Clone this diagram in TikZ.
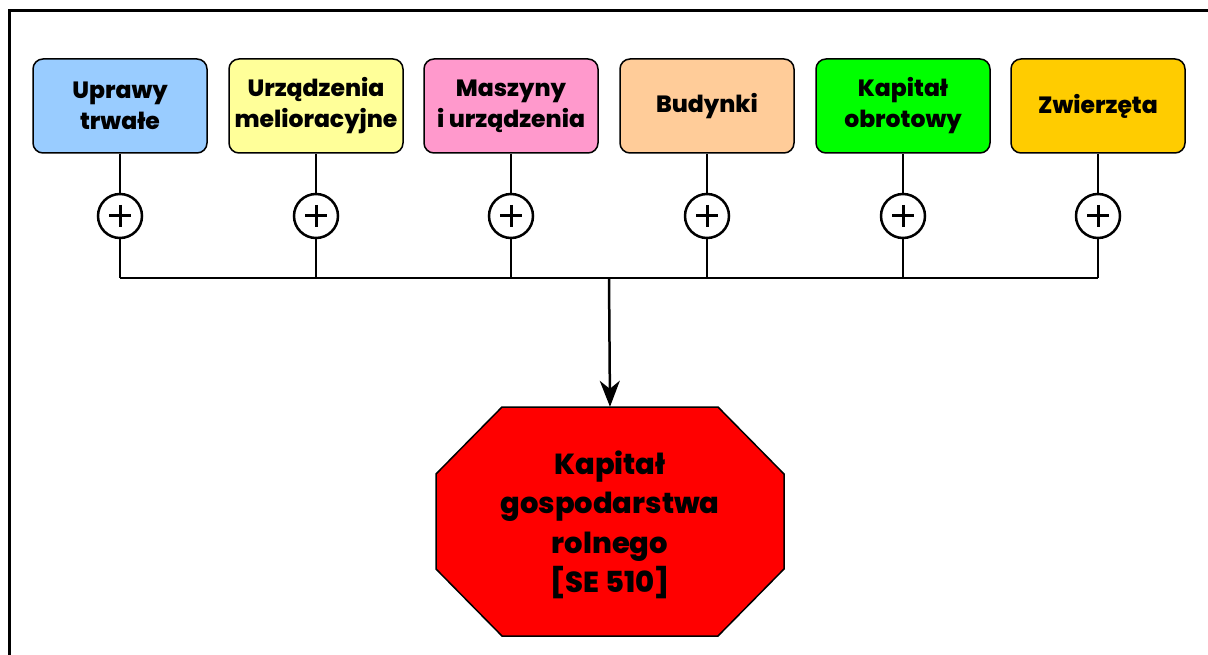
\documentclass[tikz,border=0pt]{standalone}
\usepackage{fontspec}
\setmainfont{Poppins}[BoldFont={Poppins ExtraBold}]
\usetikzlibrary{arrows.meta,calc}
\definecolor{cUprawy}{HTML}{99CCFF}
\definecolor{cUrzadz}{HTML}{FFFF99}
\definecolor{cMaszyny}{HTML}{FF99CC}
\definecolor{cBudynki}{HTML}{FFCC99}
\definecolor{cObrot}{HTML}{00FF00}
\definecolor{cZwierz}{HTML}{FFCC00}
\tikzset{
  item/.style={draw, line width=1.5pt, rounded corners=10pt, minimum width=174pt,
    minimum height=94pt, inner sep=0pt, align=center,
    font=\fontsize{23.5}{31}\selectfont\bfseries},
  sumnode/.style={draw, circle, line width=2.5pt, minimum size=44pt, inner sep=0pt,
    path picture={\draw[line width=3pt]
      ($(path picture bounding box.center)+(-11,0)$) -- ($(path picture bounding box.center)+(11,0)$)
      ($(path picture bounding box.center)+(0,-11)$) -- ($(path picture bounding box.center)+(0,11)$);}},
  link/.style={line width=2.5pt},
}
\begin{document}
\begin{tikzpicture}[x=1pt,y=-1pt]
  \useasboundingbox (0,0) rectangle (1208,655);
  % ramka
  \draw[line width=3pt] (1208,11) -- (9,11) -- (9,655);
  % skladniki kapitalu
  \foreach \x/\name/\col/\txt [count=\i] in {
      120/uprawy/cUprawy/{Uprawy\\trwałe},
      316/urzadz/cUrzadz/{Urządzenia\\melioracyjne},
      511/maszyny/cMaszyny/{Maszyny\\i urządzenia},
      707/budynki/cBudynki/{Budynki},
      903/obrot/cObrot/{Kapitał\\obrotowy},
      1098/zwierz/cZwierz/{Zwierzęta}}{
    \node[item, fill=\col] (\name) at (\x,106) {\txt};
    \node[sumnode] (p\i) at (\x,216) {};
    \coordinate (b\i) at (\x,278);
    \draw[link] (\name.south) -- (p\i.north);
    \draw[link] (p\i.south) -- (b\i);
  }
  \draw[link] (b1) -- (b6);
  \coordinate (join) at (609,278);
  % kapital gospodarstwa
  \coordinate (cap) at (610,521.5);
  \draw[fill=red, line width=1.5pt] ($(cap)+(-108,-114.5)$) -- ($(cap)+(108,-114.5)$)
    -- ($(cap)+(174,-47.5)$) -- ($(cap)+(174,47.5)$) -- ($(cap)+(108,114.5)$)
    -- ($(cap)+(-108,114.5)$) -- ($(cap)+(-174,47.5)$) -- ($(cap)+(-174,-47.5)$) -- cycle;
  \node[minimum width=348pt, minimum height=229pt, inner sep=0pt, align=center,
    font=\fontsize{29}{39.5}\selectfont\bfseries, text depth=-4pt] (capital) at (cap)
    {Kapitał\\gospodarstwa\\rolnego\\{[SE 510]}};
  \draw[link, -{Stealth[length=26pt, width=20pt, inset=8pt]}] (join) -- (capital.north);
\end{tikzpicture}
\end{document}
